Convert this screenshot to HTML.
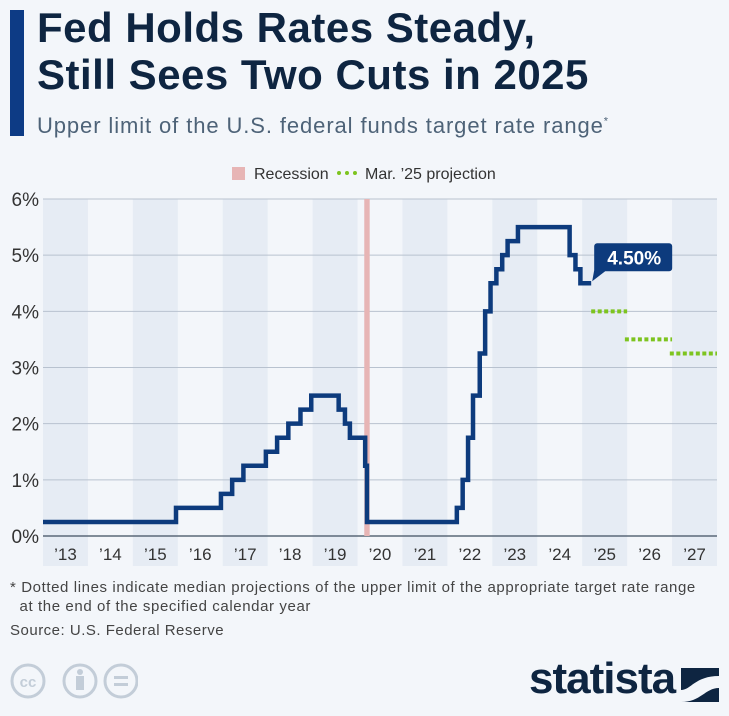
<!DOCTYPE html>
<html><head><meta charset="utf-8"><style>
body{margin:0;width:729px;height:716px;background:#f3f6fa;font-family:"Liberation Sans",sans-serif;position:relative;overflow:hidden}
.abs{position:absolute}
</style></head><body>
<div class="abs" style="left:10px;top:10px;width:14px;height:126px;background:#0d3b85"></div>
<div class="abs" style="left:37px;top:4px;font-size:42px;font-weight:bold;line-height:47px;color:#0e2541;letter-spacing:0.5px">Fed Holds Rates Steady,<br>Still Sees Two Cuts in 2025</div>
<div class="abs" style="left:37px;top:113px;font-size:22px;letter-spacing:0.9px;color:#4e6378">Upper limit of the U.S. federal funds target rate range<sup style="font-size:11px">*</sup></div>
<div class="abs" style="left:232px;top:166px;font-size:16px;color:#333"><span style="display:inline-block;width:13px;height:13px;background:#e7b5b5;vertical-align:-1px;margin-right:9px"></span>Recession</div>
<div class="abs" style="left:337px;top:166px;font-size:16px;color:#333"><span style="display:inline-block;width:20px;border-top:4px dotted #7dc41f;vertical-align:4px;margin-right:8px"></span>Mar. ’25 projection</div>
<svg class="abs" style="left:0;top:0" width="729" height="716" id="chart"></svg>
<div class="abs" style="left:10px;top:578px;font-size:15px;letter-spacing:0.6px;line-height:19px;color:#444">* Dotted lines indicate median projections of the upper limit of the appropriate target rate range<br>&nbsp;&nbsp;at the end of the specified calendar year</div>
<div class="abs" style="left:10px;top:622px;font-size:15px;letter-spacing:0.5px;color:#444">Source: U.S. Federal Reserve</div>
<svg class="abs" style="left:8px;top:660px" width="130" height="42">
<g fill="none" stroke="#c3cdd8" stroke-width="3"><circle cx="20" cy="21" r="16"/><circle cx="72" cy="21" r="16"/><circle cx="113" cy="21" r="16"/></g>
<text x="20" y="27" font-size="15" font-weight="bold" fill="#c3cdd8" text-anchor="middle" font-family="Liberation Sans">cc</text>
<g fill="#c3cdd8"><circle cx="72" cy="12" r="3"/><rect x="68" y="16" width="8" height="14"/><rect x="106" y="16" width="14" height="3"/><rect x="106" y="23" width="14" height="3"/></g>
</svg>
<div class="abs" style="left:529px;top:654px;font-size:44px;font-weight:bold;color:#0e2541;letter-spacing:-1px">statista</div>
<svg class="abs" style="left:681px;top:668px" width="38" height="34"><rect width="38" height="34" fill="#0e2541"/><path d="M0 34 L0 22 C10 22 14 8 38 8 L38 20 C24 20 20 34 0 34Z" fill="#f3f6fa"/></svg>
<script>
const years=['’13','’14','’15','’16','’17','’18','’19','’20','’21','’22','’23','’24','’25','’26','’27'];
const yTicks=[0,1,2,3,4,5,6];
const rateDates=[2013.0,2015.96,2016.96,2017.21,2017.46,2017.96,2018.21,2018.46,2018.73,2018.97,2019.58,2019.72,2019.83,2020.17,2020.21,2022.21,2022.34,2022.46,2022.57,2022.72,2022.84,2022.96,2023.09,2023.22,2023.34,2023.57,2024.72,2024.85,2024.96];
const rateValues=[0.25,0.5,0.75,1.0,1.25,1.5,1.75,2.0,2.25,2.5,2.25,2.0,1.75,1.25,0.25,0.5,1.0,1.75,2.5,3.25,4.0,4.5,4.75,5.0,5.25,5.5,5.0,4.75,4.5];
const rateEnd=2025.2;
const projStart=[2025.2,2025.95,2026.95];
const projEnd=[2026.0,2027.0,2028.0];
const projValues=[4.0,3.5,3.25];
const recession=[2020.15,2020.27];
const NS='http://www.w3.org/2000/svg';
const svg=document.getElementById('chart');
const X0=43,X1=717,Y0=536,Y1=199;
const x=v=>X0+(v-2013)*(X1-X0)/15;
const y=v=>Y0-v*(Y0-Y1)/6;
function mk(t,a){const e=document.createElementNS(NS,t);for(const k in a)e.setAttribute(k,a[k]);svg.appendChild(e);return e;}
years.forEach((lab,i)=>{
  if(i%2===0){const r=mk('rect',{x:x(2013+i),y:Y1,width:x(2014+i)-x(2013+i),height:566-Y1,fill:'#e6ecf4'});
  
  }
  const t=mk('text',{x:x(2013.5+i),y:560,'text-anchor':'middle','font-size':'17','fill':'#333','font-family':'Liberation Sans'});
  t.textContent=lab;
  
  
});
yTicks.forEach(v=>{
  const l=mk('line',{x1:X0,x2:X1,y1:y(v),y2:y(v),stroke:v===0?'#5a6878':'#b8c2cf','stroke-width':v===0?1.5:1});
  
  
  const t=mk('text',{x:39,y:y(v)+7,'text-anchor':'end','font-size':'19','fill':'#333','font-family':'Liberation Sans'});
  t.textContent=v+'%';
  
  
});
const rec=mk('rect',{x:x(recession[0]),y:Y1,width:x(recession[1])-x(recession[0]),height:Y0-Y1,fill:'#e7b5b5'});


let d='';
rateDates.forEach((t,i)=>{
  if(i===0)d+=`M${x(t)},${y(rateValues[i])}`;
  else d+=`H${x(t)}V${y(rateValues[i])}`;
});
d+=`H${x(rateEnd)}`;
const line=mk('path',{d:d,fill:'none',stroke:'#0d3b7d','stroke-width':4.5,'stroke-linejoin':'miter'});


projValues.forEach((v,i)=>{
  const p=mk('line',{x1:x(projStart[i]),x2:x(projEnd[i]),y1:y(v),y2:y(v),stroke:'#7dc41f','stroke-width':4,'stroke-dasharray':'4 2.5'});
  
  
});
const last=rateValues[rateValues.length-1];
const bx=x(rateEnd)+2,by=y(last)-40;
const box=mk('path',{d:`M${bx+4},${by} H${bx+76} a3,3 0 0 1 3,3 V${by+25} a3,3 0 0 1 -3,3 H${bx+12} L${bx-1},${by+38} L${bx+1},${by+27} V${by+3} a3,3 0 0 1 3,-3Z`,fill:'#0d3b7d'});


const bt=mk('text',{x:bx+41,y:by+21,'text-anchor':'middle','font-size':'19','font-weight':'bold','fill':'#fff','font-family':'Liberation Sans'});
bt.textContent=last.toFixed(2)+'%';


</script>
</body></html>
